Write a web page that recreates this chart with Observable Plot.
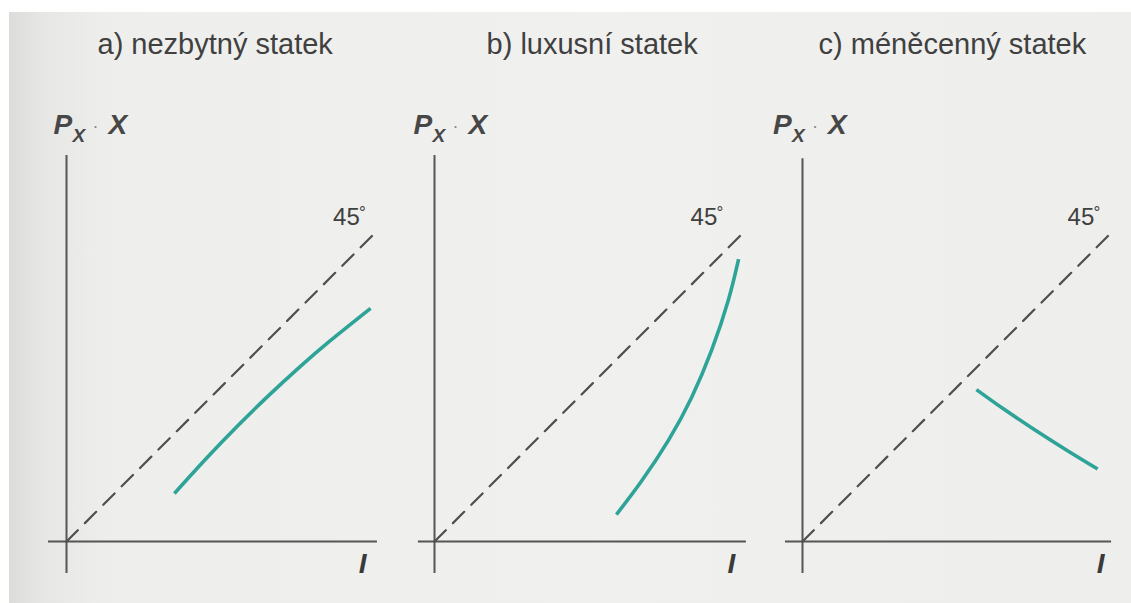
<!DOCTYPE html>
<html>
<head>
<meta charset="utf-8">
<script src="https://cdn.jsdelivr.net/npm/d3@7"></script>
<script src="https://cdn.jsdelivr.net/npm/@observablehq/plot@0.6"></script>
<style>
html, body { margin: 0; padding: 0; background: #ffffff; }
#chart svg { display: block; }
</style>
</head>
<body>
<div id="chart"></div>
<script>
// ---------- data ----------
const panels = ["a", "b", "c"];
const titles = ["a) nezbytný statek", "b) luxusní statek", "c) méněcenný statek"];
const yAxisLabel = ["P", "X", "·", "X"];      // P_X · X
const xAxisLabel = "I";
const diagonalLabel = "45";
const degreeSign = "°";

// 45° reference line (income = expenditure)
const diagonalI = [0, 10];

// a) necessity: expenditure P_X·X vs income I
const curveA_I = [3.48, 4.5, 5.5, 6.5, 7.5, 8.5, 9.81];
const curveA_E = [1.55, 2.67, 3.71, 4.69, 5.61, 6.47, 7.52];
// b) luxury
const curveB_I = [5.87, 6.68, 7.55, 8.29, 8.94, 9.48, 9.81];
const curveB_E = [0.87, 1.95, 3.27, 4.64, 6.17, 7.79, 9.11];
// c) inferior good
const curveC_I = [5.61, 6.48, 7.45, 8.55, 9.52];
const curveC_E = [4.90, 4.28, 3.63, 2.93, 2.34];

// axis extents per panel (data units)
const yAxisTop = [12.45, 12.45, 12.35];
const yAxisBottom = [-1.03, -1.03, -1.03];
const xAxisLeft = [-0.58, -0.52, -0.55];
const xAxisRight = [10.03, 10.06, 9.97];

// ---------- layout (label anchors, in data units) ----------
const titleX = [1.0, 1.68, 0.52];
const titleY = 15.74;
const pLabelX = [-0.42, -0.68, -0.95];
const pLabelY = 13.15;
const degX = [8.6, 8.26, 8.55];
const degY = 10.2;
const iLabelX = [9.55, 9.58, 9.62];
const iLabelY = -1.03;

// ---------- build tables ----------
const curves = [
  ...curveA_I.map((v, i) => ({panel: "a", I: v, E: curveA_E[i]})),
  ...curveB_I.map((v, i) => ({panel: "b", I: v, E: curveB_E[i]})),
  ...curveC_I.map((v, i) => ({panel: "c", I: v, E: curveC_E[i]}))
];
const diag = panels.flatMap(p => diagonalI.map(v => ({panel: p, I: v, E: v})));
const rows = panels.map((p, i) => ({
  panel: p, title: titles[i],
  yTop: yAxisTop[i], yBot: yAxisBottom[i], xL: xAxisLeft[i], xR: xAxisRight[i],
  tx: titleX[i], px: pLabelX[i], dx: degX[i], ix: iLabelX[i]
}));

// ---------- geometry ----------
const W = 1131, H = 603;
const unit = 31;           // px per data unit (same in x and y -> true 45°)
const bandStart = 13.5, step = 368, originInBand = 52.5, originY = 541;

const ink = "#404040";
const axisInk = "#555555";
const teal = "#2ea397";
const font = "'Liberation Sans', Arial, Helvetica, sans-serif";

const pieceMark = (txt, dx, dy, size, weight, style, fill) =>
  Plot.text(rows, {
    fx: "panel", x: "px", y: () => pLabelY, text: () => txt,
    dx, dy, fontSize: size, fontWeight: weight, fontStyle: style,
    fill, textAnchor: "start", lineAnchor: "bottom", fontFamily: font
  });

const chart = Plot.plot({
  width: W,
  height: H,
  margin: 0,
  style: {fontFamily: font, background: "transparent", overflow: "visible"},
  fx: {domain: panels, range: [bandStart, bandStart + 3 * step], paddingInner: 0, paddingOuter: 0, round: false, axis: null, label: null},
  x: {domain: [-originInBand / unit, (step - originInBand) / unit], axis: null},
  y: {domain: [-(H - originY) / unit, originY / unit], range: [H, 0], axis: null},
  marks: [
    // axes
    Plot.ruleX(rows, {fx: "panel", x: () => 0, y1: "yBot", y2: "yTop", stroke: axisInk, strokeWidth: 2}),
    Plot.ruleY(rows, {fx: "panel", y: () => 0, x1: "xL", x2: "xR", stroke: axisInk, strokeWidth: 2}),
    // 45° line
    Plot.line(diag, {fx: "panel", x: "I", y: "E", z: "panel", stroke: "#4f4f4f", strokeWidth: 2.2, strokeDasharray: "16,10"}),
    // Engel expenditure curves
    Plot.line(curves, {fx: "panel", x: "I", y: "E", z: "panel", stroke: teal, strokeWidth: 3.6, curve: "natural", strokeLinecap: "butt"}),
    // titles
    Plot.text(rows, {fx: "panel", x: "tx", y: () => titleY, text: "title", textAnchor: "start", lineAnchor: "bottom", fontSize: 29, fill: ink, fontFamily: font}),
    // P_X · X label
    pieceMark(yAxisLabel[0], 0, 0, 28, "bold", "italic", "#474747"),
    pieceMark(yAxisLabel[1], 19, 8, 19, "bold", "italic", "#474747"),
    pieceMark(yAxisLabel[2], 39, -2, 18, "normal", "normal", "#8a8a8a"),
    pieceMark(yAxisLabel[3], 55, 0, 28, "bold", "italic", "#474747"),
    // 45°
    Plot.text(rows, {fx: "panel", x: "dx", y: () => degY, text: () => diagonalLabel, textAnchor: "start", lineAnchor: "bottom", fontSize: 24, fill: ink, fontFamily: font}),
    Plot.text(rows, {fx: "panel", x: "dx", y: () => degY, text: () => degreeSign, dx: 26, dy: -7, textAnchor: "start", lineAnchor: "bottom", fontSize: 17, fill: ink, fontFamily: font}),
    // I
    Plot.text(rows, {fx: "panel", x: "ix", y: () => iLabelY, text: () => xAxisLabel, textAnchor: "middle", lineAnchor: "bottom", fontSize: 28, fontWeight: "bold", fontStyle: "italic", fill: "#3a3a3a", fontFamily: font})
  ]
});

chart.style.background = [
  "linear-gradient(#ffffff, #ffffff) 0 0 / 100% 12px no-repeat",
  "linear-gradient(#ffffff, #ffffff) 0 0 / 9px 100% no-repeat",
  "linear-gradient(to right, #dcdcda 9px, #e7e7e5 45px, #eeeeec 110px, #f0f0ee 600px, #eeeeec 100%)"
].join(", ");
document.getElementById("chart").appendChild(chart);
</script>
</body>
</html>
